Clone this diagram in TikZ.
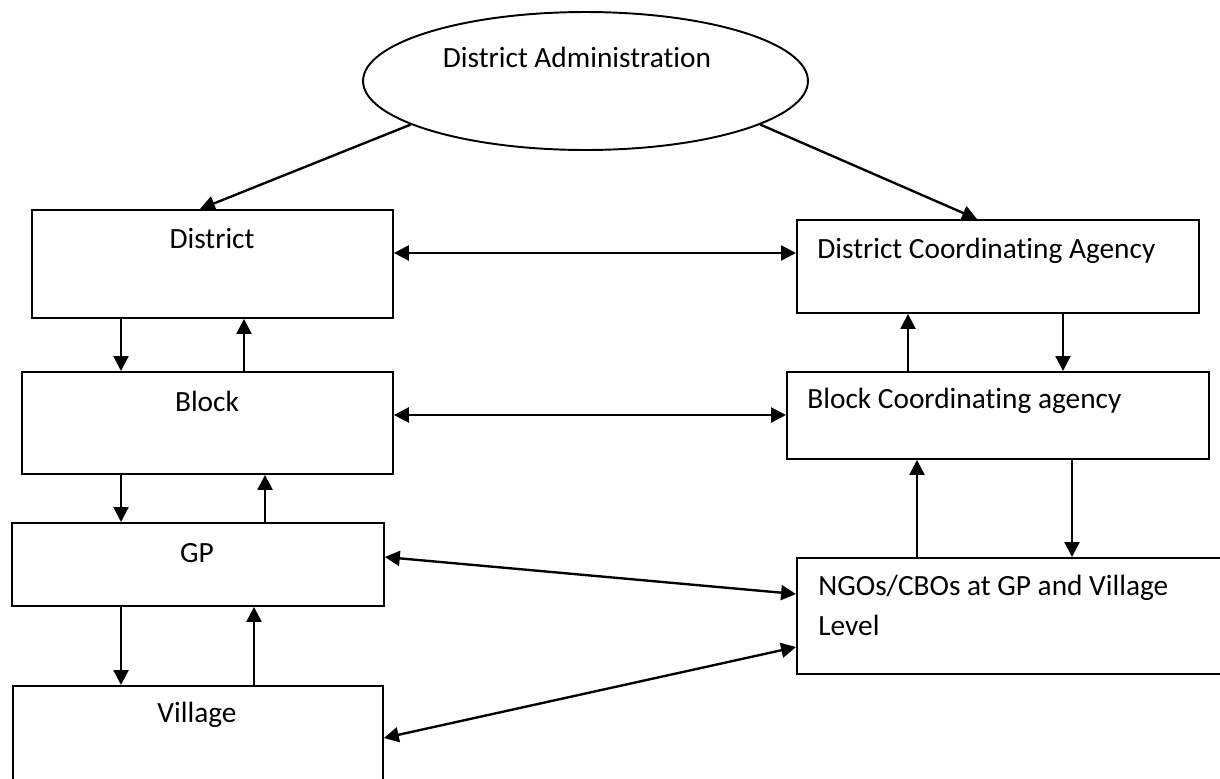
\documentclass[tikz,border=0pt]{standalone}
\usepackage{fontspec}
\setmainfont{Carlito}[Ligatures=NoCommon]
\usetikzlibrary{arrows.meta,shapes.geometric}

\begin{document}
\begin{tikzpicture}[x=0.02cm,y=-0.02cm,
  box/.style={draw,line width=1.1pt,anchor=north west,inner sep=0pt},
  lbl/.style={font=\fontsize{16.7}{22.7}\selectfont,inner sep=0pt},
  arr/.style={line width=1.35pt,-{Triangle[length=8.5pt,width=8.5pt]}},
  darr/.style={line width=1.35pt,{Triangle[length=8.5pt,width=8.5pt]}-{Triangle[length=8.5pt,width=8.5pt]}}]
\useasboundingbox (0,0) rectangle (1220,778);
\clip (0,0) rectangle (1220,778);
\node[draw,line width=1.1pt,ellipse,minimum width=8.9cm,minimum height=2.76cm] (adm) at (585.5,81) {};
\node[lbl] (admtxt) at (577,57) {District Administration};
\node[box,minimum width=7.22cm,minimum height=2.16cm] (dist) at (31,209) {};
\node[box,minimum width=8.04cm,minimum height=1.86cm] (dca) at (796,219) {};
\node[box,minimum width=7.42cm,minimum height=2.04cm] (blk) at (21,371) {};
\node[box,minimum width=8.44cm,minimum height=1.74cm] (bca) at (786,371) {};
\node[box,minimum width=7.44cm,minimum height=1.66cm] (gp) at (11,522) {};
\node[box,minimum width=10cm,minimum height=2.32cm] (ngo) at (796,557) {};
\node[box,minimum width=7.40cm,minimum height=2.4cm] (vil) at (12,685) {};
\node[lbl] (disttxt) at (212,239) {District};
\node[lbl] (blktxt) at (207,401) {Block};
\node[lbl] (gptxt) at (197,553) {GP};
\node[lbl] (viltxt) at (197,715) {Village};
\node[lbl,anchor=west] (dcatxt) at (817,251) {District Coordinating Agency};
\node[lbl,anchor=west] (bcatxt) at (807,401) {Block Coordinating agency};
\node[lbl,anchor=north west,align=left] (ngotxt) at (818,575) {NGOs/CBOs at GP and Village\\Level};
\draw[arr] (adm.194) -- (200,0 |- dist.north);
\draw[arr] (adm.346) -- (977,0 |- dca.north);
\foreach \x/\a/\b in {121/dist/blk,121/blk/gp,121/gp/vil,1063/dca/bca,1072/bca/ngo}{
  \draw[arr] (\x,0 |- \a.south) -- (\x,0 |- \b.north);
}
\foreach \x/\a/\b in {244/blk/dist,265/gp/blk,254/vil/gp,908/bca/dca,917/ngo/bca}{
  \draw[arr] (\x,0 |- \a.north) -- (\x,0 |- \b.south);
}
\draw[darr] (dist.east |- 0,253) -- (dca.west |- 0,253);
\draw[darr] (blk.east |- 0,415) -- (bca.west |- 0,415);
\draw[darr] (gp.east |- 0,557) -- (ngo.west |- 0,594);
\draw[darr] (vil.east |- 0,738) -- (ngo.west |- 0,647);
\end{tikzpicture}
\end{document}
